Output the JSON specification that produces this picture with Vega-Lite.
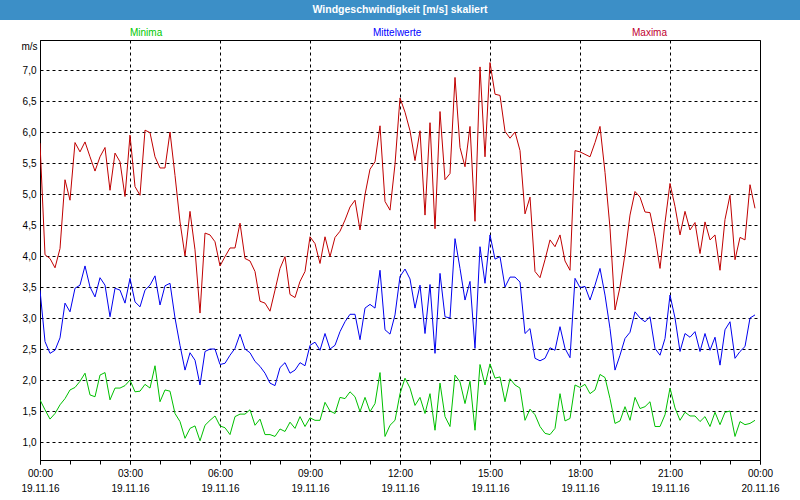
{
  "$schema": "https://vega.github.io/schema/vega-lite/v6.json",
  "background": "white",
  "padding": 0,
  "spacing": 20,
  "bounds": "flush",
  "config": {
    "font": "Liberation Sans",
    "view": {"stroke": "black", "strokeWidth": 1},
    "axis": {"labelFont": "Liberation Sans", "labelFontSize": 10, "labelColor": "black", "domainColor": "black", "tickColor": "black"},
    "legend": {"labelFont": "Liberation Sans", "labelFontSize": 10}
  },
  "vconcat": [
    {
      "width": 800,
      "height": 20,
      "view": {"fill": "#3c8fc7", "stroke": null},
      "data": {"values": [{"titel": "Windgeschwindigkeit [m/s] skaliert"}]},
      "mark": {"type": "text", "color": "white", "fontWeight": "bold", "fontSize": 10.5, "font": "Liberation Sans"},
      "encoding": {"text": {"field": "titel", "type": "nominal"}}
    },
    {
      "spacing": 0,
      "bounds": "flush",
      "hconcat": [
        {
          "width": 40,
          "height": 420,
          "view": {"stroke": null},
          "data": {"values": [{"a": 1}]},
          "mark": {"type": "point", "opacity": 0},
          "encoding": {}
        },
        {
          "width": 720,
          "height": 420,
          "data": {"values": [
{"t":"2016-11-19T00:00","Minima":1.68,"Mittelwerte":3.45,"Maxima":5.82},
{"t":"2016-11-19T00:10","Minima":1.52,"Mittelwerte":2.62,"Maxima":4.02},
{"t":"2016-11-19T00:20","Minima":1.37,"Mittelwerte":2.43,"Maxima":3.96},
{"t":"2016-11-19T00:30","Minima":1.46,"Mittelwerte":2.48,"Maxima":3.81},
{"t":"2016-11-19T00:40","Minima":1.60,"Mittelwerte":2.68,"Maxima":4.12},
{"t":"2016-11-19T00:50","Minima":1.70,"Mittelwerte":3.24,"Maxima":5.23},
{"t":"2016-11-19T01:00","Minima":1.84,"Mittelwerte":3.10,"Maxima":4.90},
{"t":"2016-11-19T01:10","Minima":1.88,"Mittelwerte":3.48,"Maxima":5.83},
{"t":"2016-11-19T01:20","Minima":1.98,"Mittelwerte":3.53,"Maxima":5.68},
{"t":"2016-11-19T01:30","Minima":2.11,"Mittelwerte":3.84,"Maxima":5.84},
{"t":"2016-11-19T01:40","Minima":1.76,"Mittelwerte":3.50,"Maxima":5.60},
{"t":"2016-11-19T01:50","Minima":1.73,"Mittelwerte":3.34,"Maxima":5.37},
{"t":"2016-11-19T02:00","Minima":2.08,"Mittelwerte":3.65,"Maxima":5.60},
{"t":"2016-11-19T02:10","Minima":2.12,"Mittelwerte":3.53,"Maxima":5.75},
{"t":"2016-11-19T02:20","Minima":1.68,"Mittelwerte":3.02,"Maxima":5.06},
{"t":"2016-11-19T02:30","Minima":1.87,"Mittelwerte":3.48,"Maxima":5.66},
{"t":"2016-11-19T02:40","Minima":1.87,"Mittelwerte":3.45,"Maxima":5.52},
{"t":"2016-11-19T02:50","Minima":1.91,"Mittelwerte":3.24,"Maxima":4.96},
{"t":"2016-11-19T03:00","Minima":2.00,"Mittelwerte":3.64,"Maxima":5.95},
{"t":"2016-11-19T03:10","Minima":1.81,"Mittelwerte":3.26,"Maxima":5.12},
{"t":"2016-11-19T03:20","Minima":1.82,"Mittelwerte":3.18,"Maxima":4.98},
{"t":"2016-11-19T03:30","Minima":1.93,"Mittelwerte":3.45,"Maxima":6.03},
{"t":"2016-11-19T03:40","Minima":1.87,"Mittelwerte":3.53,"Maxima":5.99},
{"t":"2016-11-19T03:50","Minima":2.23,"Mittelwerte":3.68,"Maxima":5.60},
{"t":"2016-11-19T04:00","Minima":1.65,"Mittelwerte":3.21,"Maxima":5.42},
{"t":"2016-11-19T04:10","Minima":1.84,"Mittelwerte":3.52,"Maxima":5.42},
{"t":"2016-11-19T04:20","Minima":1.82,"Mittelwerte":3.56,"Maxima":6.00},
{"t":"2016-11-19T04:30","Minima":1.46,"Mittelwerte":3.00,"Maxima":5.30},
{"t":"2016-11-19T04:40","Minima":1.33,"Mittelwerte":2.56,"Maxima":4.55},
{"t":"2016-11-19T04:50","Minima":1.06,"Mittelwerte":2.16,"Maxima":4.00},
{"t":"2016-11-19T05:00","Minima":1.22,"Mittelwerte":2.44,"Maxima":4.72},
{"t":"2016-11-19T05:10","Minima":1.26,"Mittelwerte":2.32,"Maxima":4.10},
{"t":"2016-11-19T05:20","Minima":1.02,"Mittelwerte":1.92,"Maxima":3.08},
{"t":"2016-11-19T05:30","Minima":1.27,"Mittelwerte":2.46,"Maxima":4.37},
{"t":"2016-11-19T05:40","Minima":1.35,"Mittelwerte":2.50,"Maxima":4.34},
{"t":"2016-11-19T05:50","Minima":1.42,"Mittelwerte":2.50,"Maxima":4.23},
{"t":"2016-11-19T06:00","Minima":1.26,"Mittelwerte":2.25,"Maxima":3.84},
{"t":"2016-11-19T06:10","Minima":1.23,"Mittelwerte":2.27,"Maxima":3.99},
{"t":"2016-11-19T06:20","Minima":1.12,"Mittelwerte":2.40,"Maxima":4.13},
{"t":"2016-11-19T06:30","Minima":1.41,"Mittelwerte":2.51,"Maxima":4.13},
{"t":"2016-11-19T06:40","Minima":1.45,"Mittelwerte":2.74,"Maxima":4.53},
{"t":"2016-11-19T06:50","Minima":1.45,"Mittelwerte":2.50,"Maxima":3.96},
{"t":"2016-11-19T07:00","Minima":1.52,"Mittelwerte":2.44,"Maxima":3.92},
{"t":"2016-11-19T07:10","Minima":1.27,"Mittelwerte":2.30,"Maxima":3.75},
{"t":"2016-11-19T07:20","Minima":1.37,"Mittelwerte":2.22,"Maxima":3.27},
{"t":"2016-11-19T07:30","Minima":1.12,"Mittelwerte":2.11,"Maxima":3.24},
{"t":"2016-11-19T07:40","Minima":1.12,"Mittelwerte":1.95,"Maxima":3.11},
{"t":"2016-11-19T07:50","Minima":1.09,"Mittelwerte":1.91,"Maxima":3.45},
{"t":"2016-11-19T08:00","Minima":1.21,"Mittelwerte":2.20,"Maxima":3.80},
{"t":"2016-11-19T08:10","Minima":1.17,"Mittelwerte":2.28,"Maxima":3.99},
{"t":"2016-11-19T08:20","Minima":1.32,"Mittelwerte":2.11,"Maxima":3.38},
{"t":"2016-11-19T08:30","Minima":1.22,"Mittelwerte":2.16,"Maxima":3.33},
{"t":"2016-11-19T08:40","Minima":1.41,"Mittelwerte":2.28,"Maxima":3.59},
{"t":"2016-11-19T08:50","Minima":1.25,"Mittelwerte":2.23,"Maxima":3.75},
{"t":"2016-11-19T09:00","Minima":1.39,"Mittelwerte":2.56,"Maxima":4.31},
{"t":"2016-11-19T09:10","Minima":1.35,"Mittelwerte":2.61,"Maxima":4.20},
{"t":"2016-11-19T09:20","Minima":1.35,"Mittelwerte":2.48,"Maxima":3.88},
{"t":"2016-11-19T09:30","Minima":1.64,"Mittelwerte":2.75,"Maxima":4.31},
{"t":"2016-11-19T09:40","Minima":1.50,"Mittelwerte":2.50,"Maxima":3.99},
{"t":"2016-11-19T09:50","Minima":1.46,"Mittelwerte":2.56,"Maxima":4.30},
{"t":"2016-11-19T10:00","Minima":1.72,"Mittelwerte":2.78,"Maxima":4.40},
{"t":"2016-11-19T10:10","Minima":1.70,"Mittelwerte":2.94,"Maxima":4.58},
{"t":"2016-11-19T10:20","Minima":1.81,"Mittelwerte":3.06,"Maxima":4.79},
{"t":"2016-11-19T10:30","Minima":1.73,"Mittelwerte":3.06,"Maxima":4.90},
{"t":"2016-11-19T10:40","Minima":1.49,"Mittelwerte":2.65,"Maxima":4.42},
{"t":"2016-11-19T10:50","Minima":1.72,"Mittelwerte":3.16,"Maxima":4.99},
{"t":"2016-11-19T11:00","Minima":1.49,"Mittelwerte":3.22,"Maxima":5.40},
{"t":"2016-11-19T11:10","Minima":1.62,"Mittelwerte":3.16,"Maxima":5.52},
{"t":"2016-11-19T11:20","Minima":2.12,"Mittelwerte":3.77,"Maxima":6.10},
{"t":"2016-11-19T11:30","Minima":1.09,"Mittelwerte":2.81,"Maxima":4.88},
{"t":"2016-11-19T11:40","Minima":1.27,"Mittelwerte":2.74,"Maxima":4.74},
{"t":"2016-11-19T11:50","Minima":1.35,"Mittelwerte":3.05,"Maxima":5.48},
{"t":"2016-11-19T12:00","Minima":1.78,"Mittelwerte":3.67,"Maxima":6.55},
{"t":"2016-11-19T12:10","Minima":2.03,"Mittelwerte":3.79,"Maxima":6.32},
{"t":"2016-11-19T12:20","Minima":1.87,"Mittelwerte":3.63,"Maxima":6.02},
{"t":"2016-11-19T12:30","Minima":1.59,"Mittelwerte":3.16,"Maxima":5.54},
{"t":"2016-11-19T12:40","Minima":1.72,"Mittelwerte":3.53,"Maxima":6.02},
{"t":"2016-11-19T12:50","Minima":1.46,"Mittelwerte":2.75,"Maxima":4.66},
{"t":"2016-11-19T13:00","Minima":1.78,"Mittelwerte":3.54,"Maxima":6.15},
{"t":"2016-11-19T13:10","Minima":1.19,"Mittelwerte":2.43,"Maxima":4.44},
{"t":"2016-11-19T13:20","Minima":1.95,"Mittelwerte":3.72,"Maxima":6.33},
{"t":"2016-11-19T13:30","Minima":1.41,"Mittelwerte":3.02,"Maxima":5.23},
{"t":"2016-11-19T13:40","Minima":1.25,"Mittelwerte":3.00,"Maxima":5.33},
{"t":"2016-11-19T13:50","Minima":2.08,"Mittelwerte":4.28,"Maxima":6.88},
{"t":"2016-11-19T14:00","Minima":1.97,"Mittelwerte":3.80,"Maxima":5.75},
{"t":"2016-11-19T14:10","Minima":1.62,"Mittelwerte":3.29,"Maxima":5.44},
{"t":"2016-11-19T14:20","Minima":1.98,"Mittelwerte":3.59,"Maxima":6.09},
{"t":"2016-11-19T14:30","Minima":1.19,"Mittelwerte":2.51,"Maxima":4.56},
{"t":"2016-11-19T14:40","Minima":2.25,"Mittelwerte":4.15,"Maxima":7.05},
{"t":"2016-11-19T14:50","Minima":1.92,"Mittelwerte":3.56,"Maxima":5.60},
{"t":"2016-11-19T15:00","Minima":2.26,"Mittelwerte":4.34,"Maxima":7.12},
{"t":"2016-11-19T15:10","Minima":2.03,"Mittelwerte":3.95,"Maxima":6.61},
{"t":"2016-11-19T15:20","Minima":2.05,"Mittelwerte":3.99,"Maxima":6.59},
{"t":"2016-11-19T15:30","Minima":1.65,"Mittelwerte":3.50,"Maxima":6.01},
{"t":"2016-11-19T15:40","Minima":2.02,"Mittelwerte":3.66,"Maxima":5.90},
{"t":"2016-11-19T15:50","Minima":1.92,"Mittelwerte":3.66,"Maxima":6.00},
{"t":"2016-11-19T16:00","Minima":1.87,"Mittelwerte":3.58,"Maxima":5.70},
{"t":"2016-11-19T16:10","Minima":1.35,"Mittelwerte":2.75,"Maxima":4.68},
{"t":"2016-11-19T16:20","Minima":1.53,"Mittelwerte":2.83,"Maxima":4.95},
{"t":"2016-11-19T16:30","Minima":1.44,"Mittelwerte":2.35,"Maxima":3.75},
{"t":"2016-11-19T16:40","Minima":1.25,"Mittelwerte":2.31,"Maxima":3.65},
{"t":"2016-11-19T16:50","Minima":1.14,"Mittelwerte":2.35,"Maxima":3.94},
{"t":"2016-11-19T17:00","Minima":1.12,"Mittelwerte":2.52,"Maxima":4.26},
{"t":"2016-11-19T17:10","Minima":1.22,"Mittelwerte":2.48,"Maxima":4.15},
{"t":"2016-11-19T17:20","Minima":1.78,"Mittelwerte":2.86,"Maxima":4.34},
{"t":"2016-11-19T17:30","Minima":1.34,"Mittelwerte":2.51,"Maxima":3.92},
{"t":"2016-11-19T17:40","Minima":1.38,"Mittelwerte":2.36,"Maxima":3.77},
{"t":"2016-11-19T17:50","Minima":1.92,"Mittelwerte":3.64,"Maxima":5.70},
{"t":"2016-11-19T18:00","Minima":1.88,"Mittelwerte":3.49,"Maxima":5.68},
{"t":"2016-11-19T18:10","Minima":1.93,"Mittelwerte":3.51,"Maxima":5.64},
{"t":"2016-11-19T18:20","Minima":1.78,"Mittelwerte":3.29,"Maxima":5.60},
{"t":"2016-11-19T18:30","Minima":1.84,"Mittelwerte":3.53,"Maxima":5.83},
{"t":"2016-11-19T18:40","Minima":2.09,"Mittelwerte":3.80,"Maxima":6.09},
{"t":"2016-11-19T18:50","Minima":2.04,"Mittelwerte":3.37,"Maxima":5.35},
{"t":"2016-11-19T19:00","Minima":1.70,"Mittelwerte":2.83,"Maxima":4.45},
{"t":"2016-11-19T19:10","Minima":1.30,"Mittelwerte":2.16,"Maxima":3.13},
{"t":"2016-11-19T19:20","Minima":1.34,"Mittelwerte":2.40,"Maxima":3.50},
{"t":"2016-11-19T19:30","Minima":1.57,"Mittelwerte":2.67,"Maxima":4.03},
{"t":"2016-11-19T19:40","Minima":1.35,"Mittelwerte":2.77,"Maxima":4.66},
{"t":"2016-11-19T19:50","Minima":1.72,"Mittelwerte":3.10,"Maxima":5.04},
{"t":"2016-11-19T20:00","Minima":1.54,"Mittelwerte":3.00,"Maxima":4.95},
{"t":"2016-11-19T20:10","Minima":1.57,"Mittelwerte":2.94,"Maxima":4.71},
{"t":"2016-11-19T20:20","Minima":1.65,"Mittelwerte":3.02,"Maxima":4.70},
{"t":"2016-11-19T20:30","Minima":1.25,"Mittelwerte":2.51,"Maxima":4.31},
{"t":"2016-11-19T20:40","Minima":1.25,"Mittelwerte":2.40,"Maxima":3.80},
{"t":"2016-11-19T20:50","Minima":1.44,"Mittelwerte":2.67,"Maxima":4.54},
{"t":"2016-11-19T21:00","Minima":1.87,"Mittelwerte":3.37,"Maxima":5.17},
{"t":"2016-11-19T21:10","Minima":1.55,"Mittelwerte":3.00,"Maxima":4.80},
{"t":"2016-11-19T21:20","Minima":1.35,"Mittelwerte":2.46,"Maxima":4.34},
{"t":"2016-11-19T21:30","Minima":1.48,"Mittelwerte":2.75,"Maxima":4.72},
{"t":"2016-11-19T21:40","Minima":1.42,"Mittelwerte":2.69,"Maxima":4.42},
{"t":"2016-11-19T21:50","Minima":1.42,"Mittelwerte":2.78,"Maxima":4.54},
{"t":"2016-11-19T22:00","Minima":1.33,"Mittelwerte":2.46,"Maxima":4.04},
{"t":"2016-11-19T22:10","Minima":1.41,"Mittelwerte":2.75,"Maxima":4.55},
{"t":"2016-11-19T22:20","Minima":1.25,"Mittelwerte":2.48,"Maxima":4.26},
{"t":"2016-11-19T22:30","Minima":1.48,"Mittelwerte":2.69,"Maxima":4.34},
{"t":"2016-11-19T22:40","Minima":1.28,"Mittelwerte":2.24,"Maxima":3.77},
{"t":"2016-11-19T22:50","Minima":1.48,"Mittelwerte":2.81,"Maxima":4.59},
{"t":"2016-11-19T23:00","Minima":1.50,"Mittelwerte":2.94,"Maxima":4.98},
{"t":"2016-11-19T23:10","Minima":1.09,"Mittelwerte":2.35,"Maxima":3.94},
{"t":"2016-11-19T23:20","Minima":1.33,"Mittelwerte":2.46,"Maxima":4.30},
{"t":"2016-11-19T23:30","Minima":1.28,"Mittelwerte":2.54,"Maxima":4.26},
{"t":"2016-11-19T23:40","Minima":1.30,"Mittelwerte":3.00,"Maxima":5.15},
{"t":"2016-11-19T23:50","Minima":1.35,"Mittelwerte":3.05,"Maxima":4.77}
          ]},
          "transform": [{"fold": ["Minima", "Mittelwerte", "Maxima"], "as": ["Reihe", "Wert"]}],
          "resolve": {"axis": {"x": "independent"}},
          "layer": [
            {
              "mark": {"type": "line", "strokeWidth": 1, "clip": true},
              "encoding": {
                "x": {
                  "field": "t",
                  "type": "temporal",
                  "scale": {"domain": [{"year": 2016, "month": 11, "date": 19, "hours": 0}, {"year": 2016, "month": 11, "date": 20, "hours": 0}], "nice": false},
                  "axis": {
                    "orient": "bottom",
                    "title": null,
                    "values": [
                      {"year": 2016, "month": 11, "date": 19, "hours": 0},
                      {"year": 2016, "month": 11, "date": 19, "hours": 3},
                      {"year": 2016, "month": 11, "date": 19, "hours": 6},
                      {"year": 2016, "month": 11, "date": 19, "hours": 9},
                      {"year": 2016, "month": 11, "date": 19, "hours": 12},
                      {"year": 2016, "month": 11, "date": 19, "hours": 15},
                      {"year": 2016, "month": 11, "date": 19, "hours": 18},
                      {"year": 2016, "month": 11, "date": 19, "hours": 21},
                      {"year": 2016, "month": 11, "date": 20, "hours": 0}
                    ],
                    "format": "%H:%M",
                    "labelOverlap": false,
                    "labelFlush": false,
                    "labelPadding": 4,
                    "tickSize": 4,
                    "grid": true,
                    "gridColor": "black",
                    "gridDash": [3, 3]
                  }
                },
                "y": {
                  "field": "Wert",
                  "type": "quantitative",
                  "scale": {"domain": [0.71, 7.484], "nice": false, "zero": false},
                  "axis": {
                    "title": "m/s",
                    "titleAngle": 0,
                    "titleAlign": "right",
                    "titleBaseline": "middle",
                    "titleX": -3,
                    "titleY": 6,
                    "titleFontWeight": "normal",
                    "titleFontSize": 10,
                    "titleFont": "Liberation Sans",
                    "titleColor": "black",
                    "values": [1, 1.5, 2, 2.5, 3, 3.5, 4, 4.5, 5, 5.5, 6, 6.5, 7],
                    "labelExpr": "replace(format(datum.value, '.1f'), '.', ',')",
                    "ticks": false,
                    "labelPadding": 4,
                    "grid": true,
                    "gridColor": "black",
                    "gridDash": [3, 3]
                  }
                },
                "color": {
                  "field": "Reihe",
                  "type": "nominal",
                  "scale": {"domain": ["Minima", "Mittelwerte", "Maxima"], "range": ["#00c000", "#0000f0", "#c00000"]},
                  "legend": {
                    "title": null,
                    "orient": "none",
                    "legendX": 120,
                    "legendY": 28,
                    "direction": "horizontal",
                    "symbolSize": 1,
                    "symbolOpacity": 0,
                    "labelOffset": 0,
                    "columnPadding": 200,
                    "padding": 0,
                    "labelFontSize": 10,
                    "encode": {"labels": {"update": {"fill": {"signal": "datum.value === 'Minima' ? '#00c800' : datum.value === 'Mittelwerte' ? '#0000ff' : '#c00030'"}}}}
                  }
                }
              }
            },
            {
              "mark": {"type": "line", "opacity": 0},
              "encoding": {
                "x": {
                  "field": "t",
                  "type": "temporal",
                  "scale": {"domain": [{"year": 2016, "month": 11, "date": 19, "hours": 0}, {"year": 2016, "month": 11, "date": 20, "hours": 0}], "nice": false},
                  "axis": {
                    "orient": "bottom",
                    "title": null,
                    "values": [
                      {"year": 2016, "month": 11, "date": 19, "hours": 0},
                      {"year": 2016, "month": 11, "date": 19, "hours": 1},
                      {"year": 2016, "month": 11, "date": 19, "hours": 2},
                      {"year": 2016, "month": 11, "date": 19, "hours": 3},
                      {"year": 2016, "month": 11, "date": 19, "hours": 4},
                      {"year": 2016, "month": 11, "date": 19, "hours": 5},
                      {"year": 2016, "month": 11, "date": 19, "hours": 6},
                      {"year": 2016, "month": 11, "date": 19, "hours": 7},
                      {"year": 2016, "month": 11, "date": 19, "hours": 8},
                      {"year": 2016, "month": 11, "date": 19, "hours": 9},
                      {"year": 2016, "month": 11, "date": 19, "hours": 10},
                      {"year": 2016, "month": 11, "date": 19, "hours": 11},
                      {"year": 2016, "month": 11, "date": 19, "hours": 12},
                      {"year": 2016, "month": 11, "date": 19, "hours": 13},
                      {"year": 2016, "month": 11, "date": 19, "hours": 14},
                      {"year": 2016, "month": 11, "date": 19, "hours": 15},
                      {"year": 2016, "month": 11, "date": 19, "hours": 16},
                      {"year": 2016, "month": 11, "date": 19, "hours": 17},
                      {"year": 2016, "month": 11, "date": 19, "hours": 18},
                      {"year": 2016, "month": 11, "date": 19, "hours": 19},
                      {"year": 2016, "month": 11, "date": 19, "hours": 20},
                      {"year": 2016, "month": 11, "date": 19, "hours": 21},
                      {"year": 2016, "month": 11, "date": 19, "hours": 22},
                      {"year": 2016, "month": 11, "date": 19, "hours": 23},
                      {"year": 2016, "month": 11, "date": 20, "hours": 0}
                    ],
                    "labelExpr": "hours(datum.value) % 3 === 0 ? timeFormat(datum.value, '%d.%m.%y') : ''",
                    "labelOverlap": false,
                    "labelFlush": false,
                    "labelPadding": 19,
                    "tickSize": 4,
                    "domain": false,
                    "grid": false
                  }
                },
                "y": {
                  "field": "Wert",
                  "type": "quantitative",
                  "scale": {"domain": [0.71, 7.484], "nice": false, "zero": false},
                  "axis": {
                    "title": "m/s",
                    "titleAngle": 0,
                    "titleAlign": "right",
                    "titleBaseline": "middle",
                    "titleX": -3,
                    "titleY": 6,
                    "titleFontWeight": "normal",
                    "titleFontSize": 10,
                    "titleFont": "Liberation Sans",
                    "titleColor": "black",
                    "values": [1, 1.5, 2, 2.5, 3, 3.5, 4, 4.5, 5, 5.5, 6, 6.5, 7],
                    "labelExpr": "replace(format(datum.value, '.1f'), '.', ',')",
                    "ticks": false,
                    "labelPadding": 4,
                    "grid": true,
                    "gridColor": "black",
                    "gridDash": [3, 3]
                  }
                },
                "detail": {"field": "Reihe", "type": "nominal"}
              }
            }
          ]
        }
      ]
    }
  ]
}
